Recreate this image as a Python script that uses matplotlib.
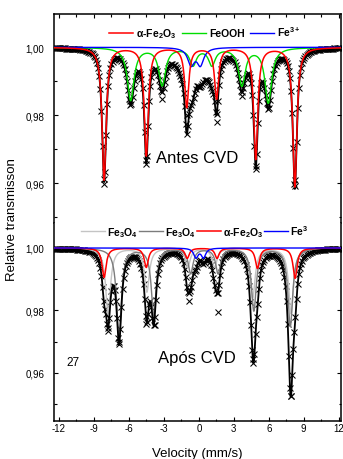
import numpy as np
import matplotlib
matplotlib.use("Agg")
import matplotlib.pyplot as plt
from matplotlib.lines import Line2D
from matplotlib.ticker import MultipleLocator

plt.rcParams['font.family'] = ['Liberation Sans', 'DejaVu Sans']
plt.rcParams['mathtext.fontset'] = 'custom'
plt.rcParams['mathtext.rm'] = 'Liberation Sans'
plt.rcParams['mathtext.bf'] = 'Liberation Sans:bold'
plt.rcParams['mathtext.it'] = 'Liberation Sans:italic'

# ---------------- data ----------------
# Upper spectrum: "Antes CVD"
top_hem_pos = [-8.13, -4.51, -1.04, 1.52, 4.88, 8.24]
top_hem_depth = [0.0390, 0.0318, 0.0175, 0.0150, 0.0328, 0.0410]
top_hem_width = 0.42
top_feooh_pos = [-5.85, -3.15, -0.50, 1.12, 3.69, 5.96]
top_feooh_depth = [0.0155, 0.0110, 0.0050, 0.0050, 0.0110, 0.0162]
top_feooh_width = 0.70
top_fe3_pos = [-0.67, 0.13]
top_fe3_depth = [0.0049, 0.0049]
top_fe3_width = 0.70
# broad central absorption seen in the data (part of the total fit only)
top_broad_pos = [-1.5, 0.6]
top_broad_depth = [0.0035, 0.0035]
top_broad_width = 1.4
top_obs_v = [-8.15, -4.51, -1.04, 1.52, 4.92, 8.25, -5.88, -3.18, 3.69, 5.95]
top_obs_y = [0.9598, 0.9657, 0.9801, 0.9780, 0.9652, 0.9593, 0.9843, 0.9848, 0.9858, 0.9833]

# Lower spectrum: "Após CVD"
bot_mtA_pos = [-7.79, -4.46, -0.95, 1.35, 4.62, 7.92]
bot_mtA_depth = [0.021, 0.014, 0.006, 0.006, 0.016, 0.021]
bot_mtA_width = 0.50
bot_mtB_pos = [-6.85, -3.87, -0.70, 1.65, 4.72, 7.85]
bot_mtB_depth = [0.029, 0.0215, 0.008, 0.008, 0.020, 0.025]
bot_mtB_width = 0.50
bot_hem_pos = [-8.13, -4.51, -1.00, 1.56, 5.03, 8.26]
bot_hem_depth = [0.0094, 0.0062, 0.0033, 0.0033, 0.0065, 0.0097]
bot_hem_width = 0.42
bot_fe_pos = [-0.25, 0.40]
bot_fe_depth = [0.0030, 0.0030]
bot_fe_width = 0.45
bot_obs_v = [-7.79, -6.85, -4.51, -3.80, -0.81, 1.61, 4.65, 7.87]
bot_obs_y = [0.9735, 0.9698, 0.9757, 0.9754, 0.9831, 0.9794, 0.9645, 0.9527]

x_ticks = [-12, -9, -6, -3, 0, 3, 6, 9, 12]
y_ticks = [0.96, 0.98, 1.00]
y_ticklabels = ['0,96', '0,98', '1,00']

# measurement channels
channels = np.linspace(-12.35, 12.1, 258)
fine = np.linspace(-12.43, 12.2, 2000)


def absorption(v, pos, depth, width):
    v = np.asarray(v)[:, None]
    p = np.asarray(pos)[None, :]
    d = np.asarray(depth)[None, :]
    h = width / 2.0
    return (d * h**2 / ((v - p)**2 + h**2)).sum(axis=1)


def top_total(v):
    return 1 - (absorption(v, top_hem_pos, top_hem_depth, top_hem_width)
                + absorption(v, top_feooh_pos, top_feooh_depth, top_feooh_width)
                + absorption(v, top_fe3_pos, top_fe3_depth, top_fe3_width)
                + absorption(v, top_broad_pos, top_broad_depth, top_broad_width))


def bot_total(v):
    return 1 - (absorption(v, bot_mtA_pos, bot_mtA_depth, bot_mtA_width)
                + absorption(v, bot_mtB_pos, bot_mtB_depth, bot_mtB_width)
                + absorption(v, bot_hem_pos, bot_hem_depth, bot_hem_width)
                + absorption(v, bot_fe_pos, bot_fe_depth, bot_fe_width))


fig = plt.figure(figsize=(3.43, 4.60), dpi=100)
left = 54 / 343
width = (341 - 54) / 343
ax_top = fig.add_axes([left, 1 - 224 / 460, width, (224 - 15) / 460])
ax_bot = fig.add_axes([left, 1 - 421.7 / 460, width, (421.7 - 224) / 460])

RED = '#ff0000'
GREEN = '#00dd00'
BLUE = '#0000ff'
LGRAY = '#c4c4c4'
DGRAY = '#7c7c7c'

# ---------- upper panel ----------
hem_f = absorption(fine, top_hem_pos, top_hem_depth, top_hem_width)
goe_f = absorption(fine, top_feooh_pos, top_feooh_depth, top_feooh_width)
fe3_f = absorption(fine, top_fe3_pos, top_fe3_depth, top_fe3_width)

ax_top.plot(channels, top_total(channels), 'x', color='black', ms=4.6, mew=0.75, zorder=2)
ax_top.plot(top_obs_v, top_obs_y, 'x', color='black', ms=4.6, mew=0.75, zorder=2)
ax_top.plot(fine, top_total(fine), color='black', lw=1.3, zorder=3)
ax_top.plot(fine, 1 - goe_f, color=GREEN, lw=1.0, zorder=4)
ax_top.plot(fine, 1 - fe3_f, color=BLUE, lw=1.0, zorder=4)
ax_top.plot(fine, 1 - hem_f, color=RED, lw=1.1, zorder=5)

ax_top.set_ylim(0.9483, 1.0098)
ax_top.text(-0.12, 0.9677, 'Antes CVD', fontsize=12, ha='center', va='center')

h_top = [Line2D([], [], color=RED, lw=1.1), Line2D([], [], color=GREEN, lw=1.0),
         Line2D([], [], color=BLUE, lw=1.0)]
lab_top = [r'α-Fe$_\mathbf{2}$O$_\mathbf{3}$', 'FeOOH', r'Fe$^\mathbf{3+}$']
ax_top.legend(h_top, lab_top, loc='center', bbox_to_anchor=(0.525, 0.912), ncol=3,
              frameon=False, handlelength=2.3, handletextpad=0.3, columnspacing=0.5,
              prop={'weight': 'bold', 'size': 7.5}, borderpad=0, borderaxespad=0)

# ---------- lower panel ----------
mA_f = absorption(fine, bot_mtA_pos, bot_mtA_depth, bot_mtA_width)
mB_f = absorption(fine, bot_mtB_pos, bot_mtB_depth, bot_mtB_width)
bh_f = absorption(fine, bot_hem_pos, bot_hem_depth, bot_hem_width)
bf_f = absorption(fine, bot_fe_pos, bot_fe_depth, bot_fe_width)

ax_bot.plot(channels, bot_total(channels), 'x', color='black', ms=4.6, mew=0.75, zorder=2)
ax_bot.plot(bot_obs_v, bot_obs_y, 'x', color='black', ms=4.6, mew=0.75, zorder=2)
ax_bot.plot(fine, 1 - mA_f, color=LGRAY, lw=1.0, zorder=3)
ax_bot.plot(fine, 1 - mB_f, color=DGRAY, lw=1.0, zorder=3)
ax_bot.plot(fine, bot_total(fine), color='black', lw=1.3, zorder=4)
ax_bot.plot(fine, 1 - bh_f, color=RED, lw=1.1, zorder=5)
ax_bot.plot(fine, 1 - bf_f, color=BLUE, lw=1.0, zorder=5)

ax_bot.set_ylim(0.9447, 1.0080)
ax_bot.text(-0.2, 0.9650, 'Após CVD', fontsize=12, ha='center', va='center')
ax_bot.text(-10.76, 0.9634, '27', fontsize=8.5, ha='center', va='center')

h_bot = [Line2D([], [], color=LGRAY, lw=1.0), Line2D([], [], color=DGRAY, lw=1.0),
         Line2D([], [], color=RED, lw=1.1), Line2D([], [], color=BLUE, lw=1.0)]
lab_bot = [r'Fe$_\mathbf{3}$O$_\mathbf{4}$', r'Fe$_\mathbf{3}$O$_\mathbf{4}$',
           r'α-Fe$_\mathbf{2}$O$_\mathbf{3}$', r'Fe$^\mathbf{3}$']
ax_bot.legend(h_bot, lab_bot, loc='center', bbox_to_anchor=(0.49, 0.96), ncol=4,
              frameon=False, handlelength=2.3, handletextpad=0.2, columnspacing=0.1,
              prop={'weight': 'bold', 'size': 7.5}, borderpad=0, borderaxespad=0)

# ---------- axes styling ----------
for ax in (ax_top, ax_bot):
    ax.set_xlim(-12.43, 12.2)
    ax.set_yticks(y_ticks)
    ax.set_yticklabels(y_ticklabels)
    ax.yaxis.set_minor_locator(MultipleLocator(0.01))
    ax.set_xticks(x_ticks)
    ax.xaxis.set_minor_locator(MultipleLocator(1.5))
    ax.tick_params(which='both', direction='in', left=True, right=True, width=0.8)
    ax.tick_params(which='major', length=3.2, labelsize=7, pad=7)
    ax.tick_params(which='minor', length=1.8)
    for s in ax.spines.values():
        s.set_linewidth(1.1)

ax_top.spines['bottom'].set_visible(False)
ax_top.tick_params(axis='x', which='both', bottom=False, top=True, labelbottom=False)
ax_bot.spines['top'].set_visible(False)
ax_bot.tick_params(axis='x', which='both', bottom=True, top=False, pad=1.5)
ax_bot.set_xticklabels([str(t) for t in x_ticks])
ax_bot.set_xlabel('Velocity (mm/s)', fontsize=9.5, labelpad=10)

fig.text(12 / 343, 1 - 220 / 460, 'Relative transmisson', rotation=90,
         fontsize=9.5, ha='center', va='center')

fig.savefig('out.png', dpi=100)
